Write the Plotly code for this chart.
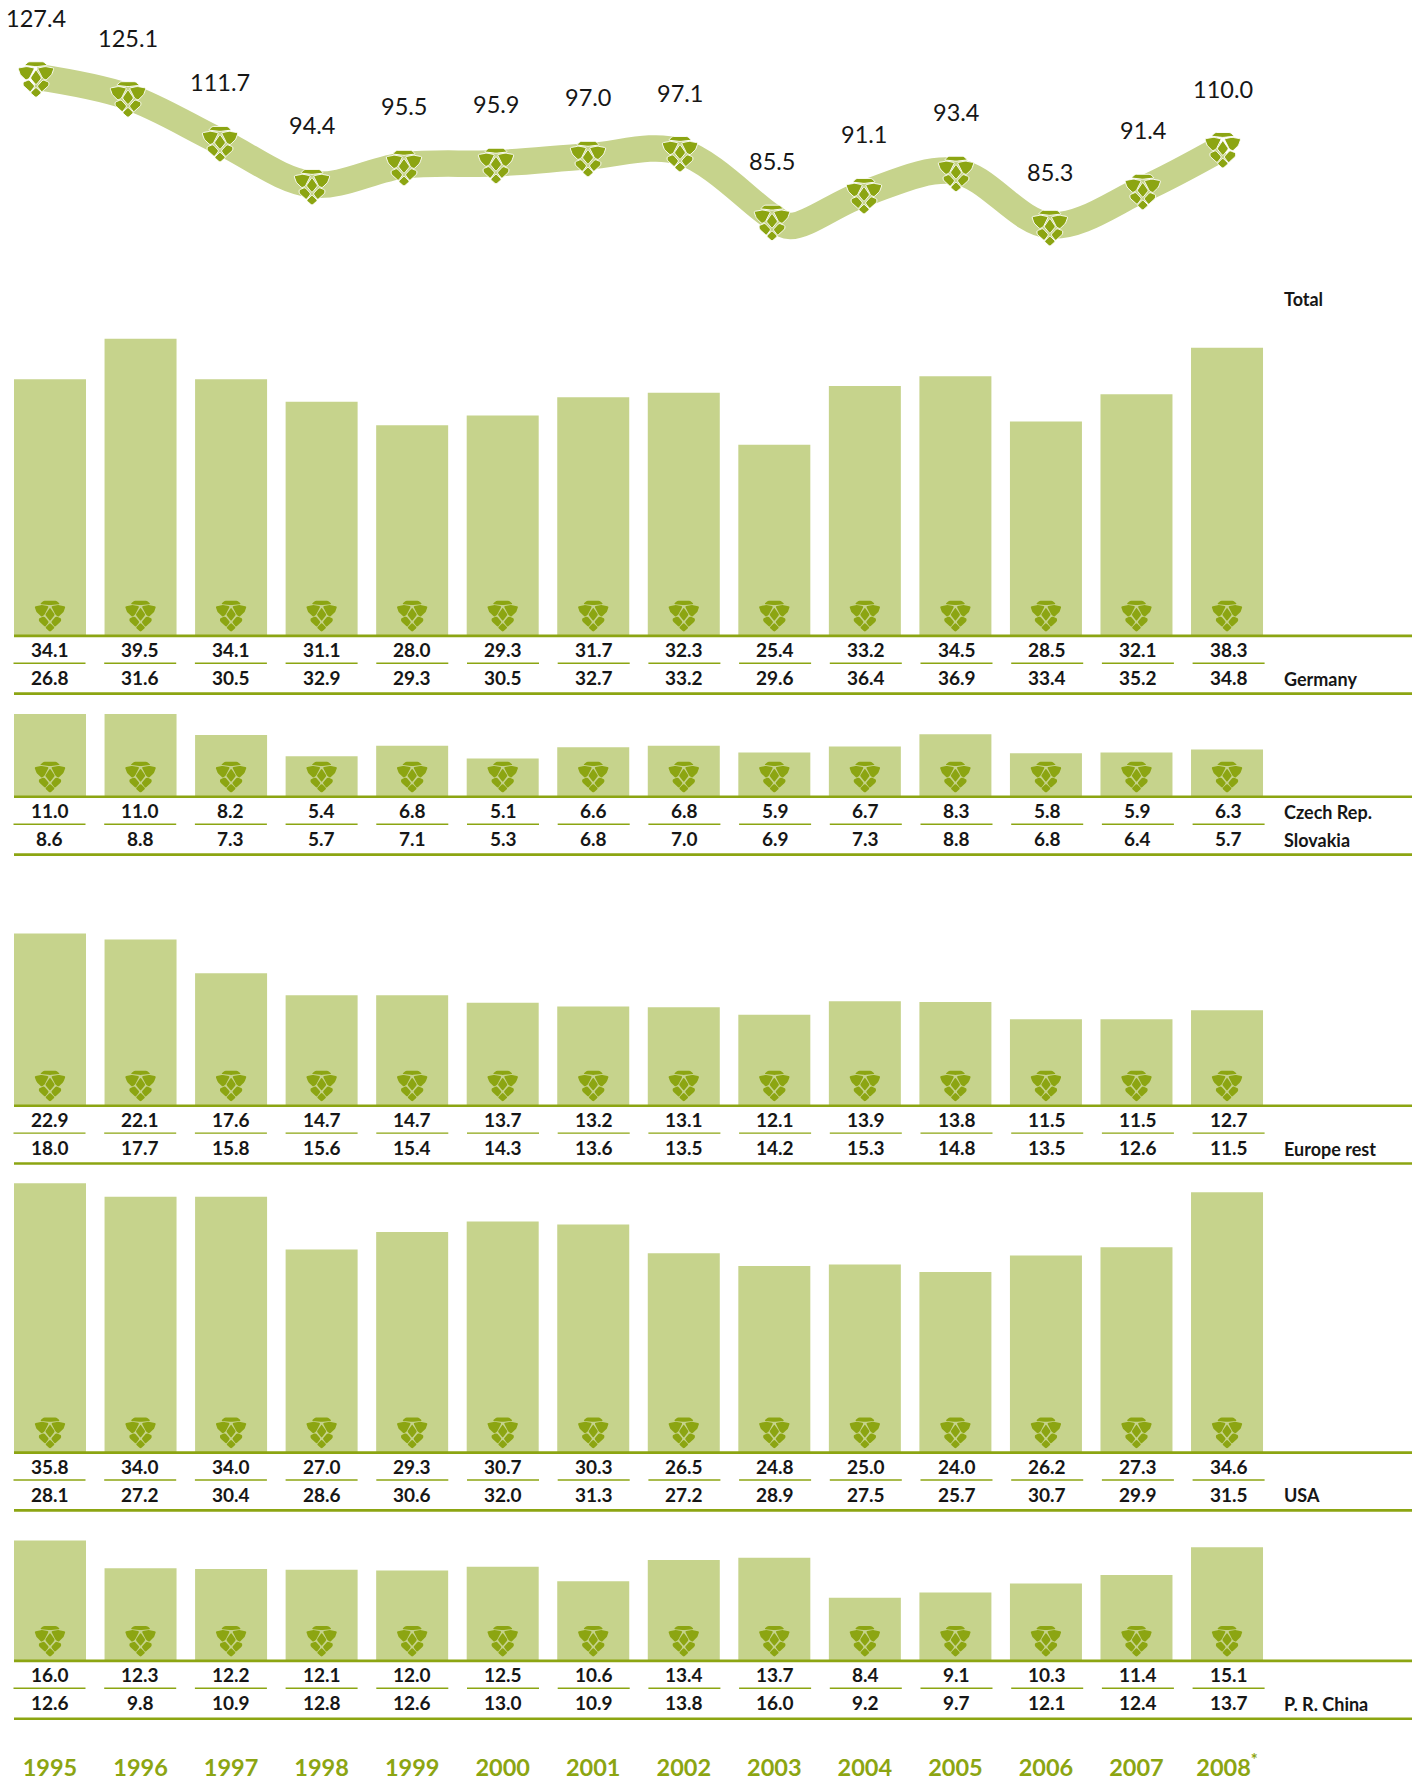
import math
import plotly.graph_objects as go

# ---------- data ----------
YEARS = list(range(1995, 2009))
YEAR_LABELS = ["1995","1996","1997","1998","1999","2000","2001","2002","2003","2004","2005","2006","2007","2008<sup>*</sup>"]
TOTAL = [127.4,125.1,111.7,94.4,95.5,95.9,97.0,97.1,85.5,91.1,93.4,85.3,91.4,110.0]
# The hand-drawn curve does not follow its labels linearly: heights and x
CURVE_HEIGHT = [127.35,121.6,108.7,96.3,101.8,102.4,104.4,105.8,86.0,93.7,100.1,84.5,94.9,106.95]
CURVE_YEAR = [1995,1996,1997,1998,1999,2000,2001,2002,2003,2004,2005,2006.02,2007.03,2007.9]
# the ribbon dips just after the 2003 hop
RIBBON_HEIGHT = [127.35,121.6,108.7,96.3,101.8,102.4,104.4,105.8,87.0,84.3,93.7,100.1,84.5,94.9,106.95]
RIBBON_YEAR = [1995,1996,1997,1998,1999,2000,2001,2002,2003,2003.2,2004,2005,2006.02,2007.03,2007.9]

GERMANY_1 = [34.1,39.5,34.1,31.1,28.0,29.3,31.7,32.3,25.4,33.2,34.5,28.5,32.1,38.3]
GERMANY_2 = [26.8,31.6,30.5,32.9,29.3,30.5,32.7,33.2,29.6,36.4,36.9,33.4,35.2,34.8]
CZECH = [11.0,11.0,8.2,5.4,6.8,5.1,6.6,6.8,5.9,6.7,8.3,5.8,5.9,6.3]
SLOVAKIA = [8.6,8.8,7.3,5.7,7.1,5.3,6.8,7.0,6.9,7.3,8.8,6.8,6.4,5.7]
EUROPE_1 = [22.9,22.1,17.6,14.7,14.7,13.7,13.2,13.1,12.1,13.9,13.8,11.5,11.5,12.7]
EUROPE_2 = [18.0,17.7,15.8,15.6,15.4,14.3,13.6,13.5,14.2,15.3,14.8,13.5,12.6,11.5]
USA_1 = [35.8,34.0,34.0,27.0,29.3,30.7,30.3,26.5,24.8,25.0,24.0,26.2,27.3,34.6]
USA_2 = [28.1,27.2,30.4,28.6,30.6,32.0,31.3,27.2,28.9,27.5,25.7,30.7,29.9,31.5]
CHINA_1 = [16.0,12.3,12.2,12.1,12.0,12.5,10.6,13.4,13.7,8.4,9.1,10.3,11.4,15.1]
CHINA_2 = [12.6,9.8,10.9,12.8,12.6,13.0,10.9,13.8,16.0,9.2,9.7,12.1,12.4,13.7]

# ---------- style / layout ----------
W, H = 1420, 1781
BAND = "#c6d38c"
GREEN = "#8ca512"
INK = "#161616"
FONT = "Lato"
def py(px): return 1 - px / H
def px_x(px): return px / W

fig = go.Figure()
shapes, annots = [], []

# icon path, y up, centred on (0,0), 31 px wide at s=1
PETALS = [
    [(-6.5,15.5),(6.5,15.5),(10,12.4),(0,11.2),(-10,12.4)],
    [(-15.5,10),(-8,11.4),(-1.2,10),(-5.6,1.4),(-8.6,-0.4),(-13.6,4.5)],
    [(15.5,10),(8,11.4),(1.2,10),(5.6,1.4),(8.6,-0.4),(13.6,4.5)],
    [(0,8.8),(4.9,1.5),(0,-4.6),(-4.9,1.5)],
    [(-6,0),(-1,-5.6),(-4.9,-10.6),(-11,-5),(-11.2,-2.2)],
    [(6,0),(1,-5.6),(4.9,-10.6),(11,-5),(11.2,-2.2)],
    [(0,-6.4),(4.8,-11.2),(0,-15.5),(-4.8,-11.2)],
]
def rounded(p, s, dy):
    """closed path through the polygon p, corners softened with quadratic curves"""
    pts = [(x*s, y*s+dy) for x, y in p]
    n = len(pts); d = ""
    for i in range(n):
        a, b, c = pts[i-1], pts[i], pts[(i+1) % n]
        def toward(q, r):
            L = math.hypot(r[0]-q[0], r[1]-q[1]); t = min(1.3, L*0.3)/L
            return (q[0]+(r[0]-q[0])*t, q[1]+(r[1]-q[1])*t)
        p1, p2 = toward(b, a), toward(b, c)
        d += ("M" if i == 0 else "L") + f"{p1[0]:.1f},{p1[1]:.1f}Q{b[0]:.1f},{b[1]:.1f} {p2[0]:.1f},{p2[1]:.1f}"
    return d + "Z"
def icon_path(s, dy):
    return "".join(rounded(p, s, dy) for p in PETALS)

BAR_PATH = icon_path(1.0, 19.5)
LINE_PATH = icon_path(36/31, -3)

# axes
layout_axes = {}
step_b = 90.54; c0_b = 50
layout_axes["xaxis"] = dict(range=[1995 - c0_b/step_b, 1995 + (W-c0_b)/step_b], domain=[0,1], anchor="free",
    position=py(1757.5), tickmode="array", tickvals=YEARS, ticktext=YEAR_LABELS, ticks="", showgrid=False,
    zeroline=False, showline=False, tickfont=dict(family=FONT, size=23.5, color=GREEN, weight=700))
step_l = 92.0; c0_l = 36
layout_axes["xaxis2"] = dict(range=[1995 - c0_l/step_l, 1995 + (W-c0_l)/step_l], domain=[0,1], overlaying="x",
    anchor="y", visible=False)
step_t = 90.7; c0_t = 49.5
layout_axes["xaxis3"] = dict(range=[1995 - c0_t/step_t, 1995 + (W-c0_t)/step_t], domain=[0,1], overlaying="x",
    anchor="free", position=0, visible=False)

# top curve
layout_axes["yaxis"] = dict(domain=[py(290), 1], range=[85.4-(290-223)/3.48, 85.4+223/3.48], visible=False, anchor="free", position=0)
fig.add_trace(go.Scatter(x=RIBBON_YEAR, y=RIBBON_HEIGHT, xaxis="x2", yaxis="y", mode="lines",
    line=dict(color=BAND, width=26.5, shape="spline", smoothing=1.0), hoverinfo="skip", showlegend=False))
for xv, yv, t in zip(CURVE_YEAR, CURVE_HEIGHT, TOTAL):
    shapes.append(dict(type="path", xref="x2", yref="y", xsizemode="pixel", ysizemode="pixel", xanchor=xv, yanchor=yv,
        path=LINE_PATH, fillcolor=GREEN, line=dict(color="white", width=0.9), layer="above"))
    annots.append(dict(x=xv, y=yv, xref="x2", yref="y", yshift=53 if t == 85.3 else 59, text=f"{t:.1f}", showarrow=False,
        font=dict(family=FONT, size=23.5, color=INK), xanchor="center", yanchor="middle"))

# panels: (baseline px, top row, bottom row)
PANELS = [(638, GERMANY_1, GERMANY_2), (799.5, CZECH, SLOVAKIA), (1109.5, EUROPE_1, EUROPE_2),
          (1457.5, USA_1, USA_2), (1666.5, CHINA_1, CHINA_2)]
ROW_LABELS = [("Total", 300), ("Germany", 681), ("Czech Rep.", 815), ("Slovakia", 843),
              ("Europe rest", 1153), ("USA", 1500), ("P. R. China", 1710)]
UNIT = 7.55
PANEL_H = 300
for n, (base, top, bottom) in enumerate(PANELS):
    ax = f"yaxis{n+2}"; yr = f"y{n+2}"
    layout_axes[ax] = dict(domain=[py(base), py(base-PANEL_H)], range=[0, PANEL_H/UNIT], visible=False, anchor="free", position=0)
    fig.add_trace(go.Bar(x=YEARS, y=top, xaxis="x", yaxis=yr, width=72/step_b, marker=dict(color=BAND, line=dict(width=0)),
        hoverinfo="skip", showlegend=False))
    for yr_v in YEARS:
        shapes.append(dict(type="path", xref="x", yref=yr, xsizemode="pixel", ysizemode="pixel", xanchor=yr_v, yanchor=0,
            path=BAR_PATH, fillcolor=GREEN, line=dict(width=0), layer="above"))
    for off in (0, 58):
        shapes.append(dict(type="line", xref="paper", yref="paper", x0=px_x(14), x1=px_x(1412), y0=py(base+off), y1=py(base+off),
            line=dict(color=GREEN, width=2.6), layer="above"))
    for yr_v, a, b in zip(YEARS, top, bottom):
        half = 36/step_t
        shapes.append(dict(type="line", xref="x3", yref="paper", x0=yr_v-half, x1=yr_v+half, y0=py(base+27.5), y1=py(base+27.5),
            line=dict(color=GREEN, width=1.4), layer="above"))
        annots.append(dict(x=yr_v, xref="x3", y=py(base+13.7), yref="paper", text=f"{a:.1f}", showarrow=False,
            font=dict(family=FONT, size=19, color=INK, weight=700), xanchor="center", yanchor="middle"))
        annots.append(dict(x=yr_v, xref="x3", y=py(base+42), yref="paper", text=f"{b:.1f}", showarrow=False,
            font=dict(family=FONT, size=19, color=INK, weight=700), xanchor="center", yanchor="middle"))

for txt, ypx in ROW_LABELS:
    annots.append(dict(x=px_x(1281.5), xref="paper", y=py(ypx), yref="paper", text=txt, showarrow=False,
        font=dict(family=FONT, size=18, color=INK, weight=700), xanchor="left", yanchor="middle"))

fig.update_layout(width=W, height=H, margin=dict(l=0, r=0, t=0, b=0), paper_bgcolor="rgba(0,0,0,0)", plot_bgcolor="rgba(0,0,0,0)",
    showlegend=False, barmode="overlay", shapes=shapes, annotations=annots, hovermode=False, **layout_axes)
fig.write_html("out.html", post_script="document.body.style.margin='0';", config=dict(displayModeBar=False))
